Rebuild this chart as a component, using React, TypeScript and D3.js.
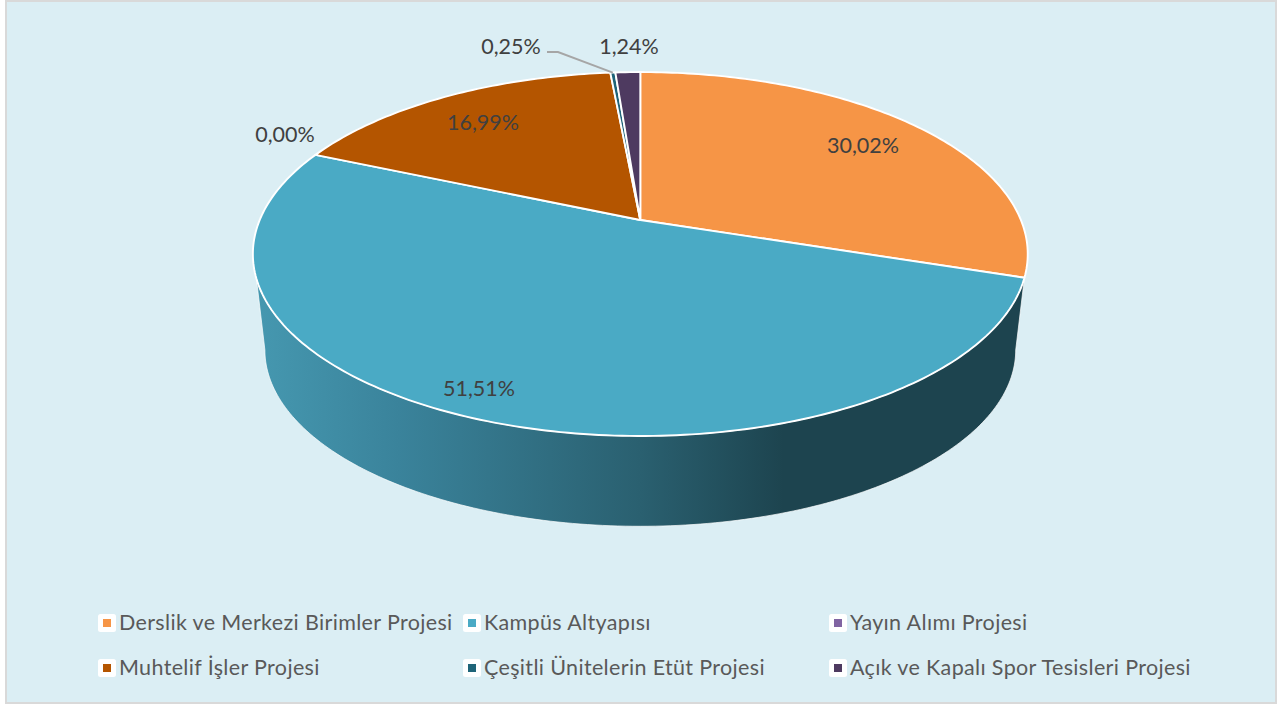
import React from "react";
import * as d3 from "d3";

const categories = [
  "Derslik ve Merkezi Birimler Projesi",
  "Kampüs Altyapısı",
  "Yayın Alımı Projesi",
  "Muhtelif İşler Projesi",
  "Çeşitli Ünitelerin Etüt Projesi",
  "Açık ve Kapalı Spor Tesisleri Projesi",
];
const shares = [30.02, 51.51, 0.0, 16.99, 0.25, 1.24];
const shareLabels = ["30,02%", "51,51%", "0,00%", "16,99%", "0,25%", "1,24%"];
const colors = ["#F69546", "#4AAAC5", "#8064A2", "#B45500", "#1F6478", "#4E3A60"];

// layout (not data)
const W = 1283, H = 704;
const pivot = { x: 640.3, y: 220 };
const A = 380.6, B = 175.6, K = -0.187;
const depthScale = 0.969, lowerPivotY = 317;
const labelXY: [number, number][] = [[863, 145], [479, 388], [285, 134], [483, 122], [511, 46], [629, 46]];
const legendCols = [98, 463, 829];
const legendRows = [614, 659];

const project = (theta: number, r = 1): [number, number] => {
  const u = r * Math.sin(theta), v = -r * Math.cos(theta);
  const den = 1 + K * v;
  return [pivot.x + (A * u) / den, pivot.y + (B * v) / den];
};
const projectLower = (theta: number): [number, number] => {
  const [x, y] = project(theta);
  return [pivot.x + depthScale * (x - pivot.x), lowerPivotY + depthScale * (y - pivot.y)];
};
const sweep = (a0: number, a1: number, f: (t: number) => [number, number]) => {
  const n = Math.max(2, Math.ceil(Math.abs(a1 - a0) * 60));
  return d3.range(n + 1).map((i) => f(a0 + ((a1 - a0) * i) / n));
};

const pie = d3.pie<number>().sort(null).value((d) => d);
const arcs = pie(shares);
const line = d3.line();

export default function App() {
  const blue = arcs[1];
  const ext = Math.acos(K);
  const sidePts = [
    ...sweep(blue.startAngle, 2 * Math.PI - 1.89, (t) => project(t)),
    ...sweep(2 * Math.PI - ext, ext, projectLower),
  ];
  const lead = project((arcs[4].startAngle + arcs[4].endAngle) / 2);
  return (
    <svg width={W} height={H} style={{ position: "absolute", left: 0, top: 0 }} fontFamily="Lato, Carlito, sans-serif">
      <defs>
        <linearGradient id="side" gradientUnits="userSpaceOnUse" x1={262} x2={1018} y1={0} y2={0}>
          <stop offset="0" stopColor="#4597AF" />
          <stop offset="0.18" stopColor="#3A839B" />
          <stop offset="0.5" stopColor="#2A6070" />
          <stop offset="0.69" stopColor="#1D444F" />
          <stop offset="1" stopColor="#1D444F" />
        </linearGradient>
      </defs>
      <rect x={6} y={1} width={1270} height={702} fill="#DBEEF4" stroke="#D9D9D9" strokeWidth={2} />
      <path d={line(sidePts) + "Z"} fill="url(#side)" stroke="#fff" strokeWidth={0.7} />
      {arcs.map((a, i) =>
        a.value > 0 ? (
          <path
            key={i}
            d={line([[pivot.x, pivot.y], ...sweep(a.startAngle, a.endAngle, (t) => project(t))]) + "Z"}
            fill={colors[i]}
            stroke="#fff"
            strokeWidth={1.9}
            strokeLinejoin="round"
          />
        ) : null
      )}
      <path d={line([[547, 52], [558, 52], lead])!} fill="none" stroke="#A6A6A6" strokeWidth={1.9} />
      {shareLabels.map((s, i) => (
        <text key={i} x={labelXY[i][0]} y={labelXY[i][1]} dy="0.35em" textAnchor="middle" fontSize={21.5} fill="#404040">
          {s}
        </text>
      ))}
      {categories.map((c, i) => {
        const x = legendCols[i % 3], y = legendRows[Math.floor(i / 3)];
        return (
          <g key={c}>
            <rect x={x} y={y} width={18} height={18} rx={2.5} fill="#fff" />
            <rect x={x + 5} y={y + 5} width={8} height={8} fill={colors[i]} />
            <text x={x + 21} y={y + 15.5} fontSize={21.5} letterSpacing={0.35} fill="#595959">
              {c}
            </text>
          </g>
        );
      })}
    </svg>
  );
}
